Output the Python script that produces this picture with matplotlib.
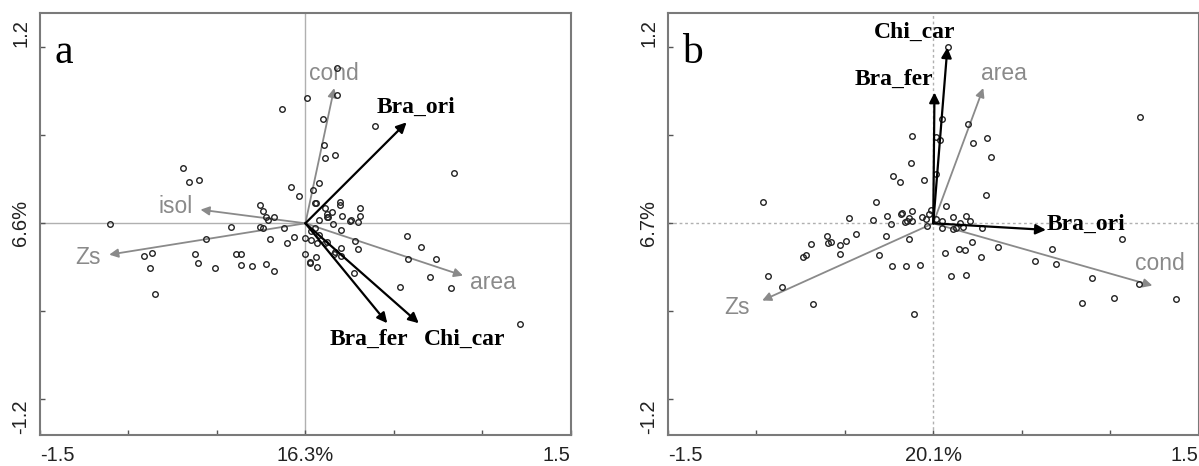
import matplotlib.pyplot as plt

# site scores, panel a
a_x = [0.18, 0.18, 0.011, -0.13, 0.098, 0.391, 0.104, 0.109, 0.167, 0.841,
       -0.693, -0.659, -0.602, -0.083, 0.076, 0.043, -0.035, 0.054, 0.193, 0.196,
       0.109, 0.311, -0.254, -0.237, -0.224, -0.178, -0.213, 0.12, 0.148, 0.13,
       0.207, 0.309, 0.298, 0.254, 0.076, 0.157, -1.104, -0.422, -0.254, -0.241,
       -0.12, 0.054, 0.033, 0.202, -0.561, -0.2, -0.102, -0.063, 0.0, 0.033,
       0.065, 0.124, 0.28, 0.3, 0.2, 0.576, 0.652, -0.865, -0.911, -0.626,
       -0.391, -0.365, 0.0, 0.061, 0.163, 0.2, 0.578, 0.739, -0.876, -0.609,
       -0.509, -0.363, -0.302, -0.224, -0.18, 0.024, 0.065, 0.272, 0.707, 0.537,
       0.822, -0.848, 1.211, 0.122, 0.26, 0.06, 0.075, 0.113, 0.166, 0.028]
a_y = [1.057, 0.877, 0.857, 0.78, 0.709, 0.661, 0.536, 0.443, 0.466, 0.343,
       0.375, 0.28, 0.298, 0.245, 0.277, 0.23, 0.184, 0.136, 0.148, 0.125,
       0.107, 0.105, 0.123, 0.086, 0.045, 0.041, 0.025, 0.064, 0.075, 0.041,
       0.052, 0.052, 0.007, 0.016, 0.02, -0.005, -0.005, -0.023, -0.023, -0.034,
       -0.034, -0.034, -0.05, -0.045, -0.107, -0.105, -0.134, -0.095, -0.102, -0.114,
       -0.136, -0.127, -0.123, -0.177, -0.17, -0.084, -0.164, -0.202, -0.225, -0.207,
       -0.209, -0.209, -0.209, -0.232, -0.211, -0.22, -0.245, -0.245, -0.307, -0.27,
       -0.307, -0.284, -0.291, -0.28, -0.323, -0.273, -0.295, -0.341, -0.368, -0.432,
       -0.439, -0.482, -0.686, 0.045, 0.02, 0.141, -0.08, -0.132, -0.198, -0.261]

# site scores, panel b
b_x = [0.083, 0.05, 0.017, 0.039, -0.12, -0.126, 0.017, -0.226, -0.189, -0.05,
       0.196, 0.226, 0.304, 0.328, 0.296, 1.17, -0.963, -0.322, 0.072, -0.478,
       -0.343, -0.261, -0.239, -0.183, -0.174, -0.159, -0.146, -0.135, -0.12, -0.12,
       -0.065, -0.043, -0.037, -0.015, -0.022, 0.017, 0.05, 0.05, 0.109, 0.152,
       0.185, 0.207, 0.113, 0.13, 0.17, 0.278, 1.07, -0.689, -0.6, -0.596,
       -0.578, -0.53, -0.493, -0.439, -0.265, -0.139, -0.739, -0.717, -0.53, -0.304,
       0.065, 0.146, 0.178, 0.217, 0.272, 0.365, 0.67, 0.576, 0.696, -0.235,
       -0.152, -0.076, 0.098, 0.185, 0.896, 1.163, -0.935, -0.857, -0.678, 0.843,
       1.024, 1.374, -0.109]
b_y = [1.205, 0.711, 0.586, 0.568, 0.593, 0.409, 0.336, 0.32, 0.284, 0.298,
       0.677, 0.545, 0.582, 0.452, 0.193, 0.723, 0.143, 0.143, 0.118, 0.039,
       0.02, 0.052, -0.005, 0.064, 0.07, 0.007, 0.018, 0.036, 0.082, 0.018,
       0.045, 0.03, -0.016, 0.091, 0.064, 0.03, 0.014, -0.034, 0.045, 0.0,
       0.052, 0.014, -0.039, -0.03, -0.027, -0.032, -0.107, -0.141, -0.089, -0.136,
       -0.125, -0.148, -0.118, -0.075, -0.089, -0.109, -0.227, -0.214, -0.209, -0.216,
       -0.202, -0.177, -0.182, -0.13, -0.227, -0.164, -0.175, -0.255, -0.277, -0.289,
       -0.291, -0.284, -0.357, -0.355, -0.375, -0.416, -0.361, -0.434, -0.548, -0.545,
       -0.511, -0.52, -0.62]

# species (black) and environmental (gray) vectors
a_species = ['Bra_ori', 'Bra_fer', 'Chi_car']
a_species_x = [0.572, 0.463, 0.641]
a_species_y = [0.689, -0.682, -0.682]
a_species_lx = [0.626, 0.359, 0.902]
a_species_ly = [0.791, -0.789, -0.789]
a_env = ['cond', 'isol', 'Zs', 'area']
a_env_x = [0.163, -0.593, -1.109, 0.891]
a_env_y = [0.923, 0.093, -0.214, -0.357]
a_env_lx = [0.159, -0.733, -1.228, 1.061]
a_env_ly = [1.023, 0.114, -0.232, -0.402]

b_species = ['Chi_car', 'Bra_fer', 'Bra_ori']
b_species_x = [0.08, 0.007, 0.637]
b_species_y = [1.2, 0.893, -0.045]
b_species_lx = [-0.104, -0.222, 0.865]
b_species_ly = [1.302, 0.984, -0.009]
b_env = ['area', 'cond', 'Zs']
b_env_x = [0.283, 1.239, -0.967]
b_env_y = [0.923, -0.425, -0.527]
b_env_lx = [0.398, 1.283, -1.109]
b_env_ly = [1.023, -0.277, -0.573]

axis_labels_x = ['16.3%', '20.1%']
axis_labels_y = ['6.6%', '6.7%']

GRAY = '#8a8a8a'
SANS = ['Liberation Sans', 'DejaVu Sans']
SERIF = ['Liberation Serif', 'DejaVu Serif']

fig = plt.figure(figsize=(11.99, 4.66), dpi=100)
ax1 = fig.add_axes([0.0334, 0.0665, 0.4426, 0.9055])
ax2 = fig.add_axes([0.5571, 0.0665, 0.4425, 0.9055])


def draw_panel(ax, letter, xs, ys, sp, spx, spy, splx, sply,
               env, ex, ey, elx, ely, xlab, ylab, zero_ls):
    ax.set_xlim(-1.5, 1.5)
    ax.set_ylim(-1.445, 1.435)
    ax.axhline(0, color='#b0b0b0', lw=1, ls=zero_ls, zorder=0)
    ax.axvline(0, color='#b0b0b0', lw=1, ls=zero_ls, zorder=0)

    for name, x, y, lx, ly in zip(env, ex, ey, elx, ely):
        ax.annotate('', xy=(x, y), xytext=(0, 0),
                    arrowprops=dict(arrowstyle='-|>', color=GRAY, lw=1.3,
                                    mutation_scale=13, shrinkA=0, shrinkB=0))
        ax.text(lx, ly, name, color=GRAY, fontsize=16.5, family=SANS,
                ha='center', va='center')

    ax.plot(xs, ys, 'o', ms=4.0, mfc='none', mec='#222222', mew=1.0, zorder=3)

    for name, x, y, lx, ly in zip(sp, spx, spy, splx, sply):
        ax.annotate('', xy=(x, y), xytext=(0, 0),
                    arrowprops=dict(arrowstyle='-|>', color='black', lw=1.6,
                                    mutation_scale=15, shrinkA=0, shrinkB=0))
        ax.text(lx, ly, name, color='black', fontsize=17, family=SERIF,
                fontweight='bold', ha='center', va='center')

    ax.text(0.027, 0.905, letter, transform=ax.transAxes, fontsize=30,
            family=SERIF, ha='left', va='center')

    # frame and ticks
    for s in ax.spines.values():
        s.set_color('#7a7a7a')
        s.set_linewidth(1.5)
    ax.set_xticks([-1.5, -1.0, -0.5, 0, 0.5, 1.0, 1.5])
    ax.set_xticklabels(['-1.5', '', '', xlab, '', '', '1.5'])
    ax.set_yticks([-1.2, -0.6, 0, 0.6, 1.2])
    ax.set_yticklabels(['-1.2', '', ylab, '', '1.2'], rotation=90)
    ax.tick_params(direction='in', length=3.5, width=1, color='#555555',
                   labelsize=14.5, labelcolor='#222222')
    ax.tick_params(axis='x', pad=8)
    ax.tick_params(axis='y', pad=7)
    xt = ax.get_xticklabels()
    xt[0].set_ha('left')
    xt[-1].set_ha('right')
    yt = ax.get_yticklabels()
    yt[0].set_va('top')
    yt[2].set_va('center')
    yt[-1].set_va('bottom')
    for t in xt + yt:
        t.set_family(SANS)


draw_panel(ax1, 'a', a_x, a_y, a_species, a_species_x, a_species_y,
           a_species_lx, a_species_ly, a_env, a_env_x, a_env_y,
           a_env_lx, a_env_ly, axis_labels_x[0], axis_labels_y[0], '-')
draw_panel(ax2, 'b', b_x, b_y, b_species, b_species_x, b_species_y,
           b_species_lx, b_species_ly, b_env, b_env_x, b_env_y,
           b_env_lx, b_env_ly, axis_labels_x[1], axis_labels_y[1], (0, (2, 2)))

fig.savefig('out.png', dpi=100)
